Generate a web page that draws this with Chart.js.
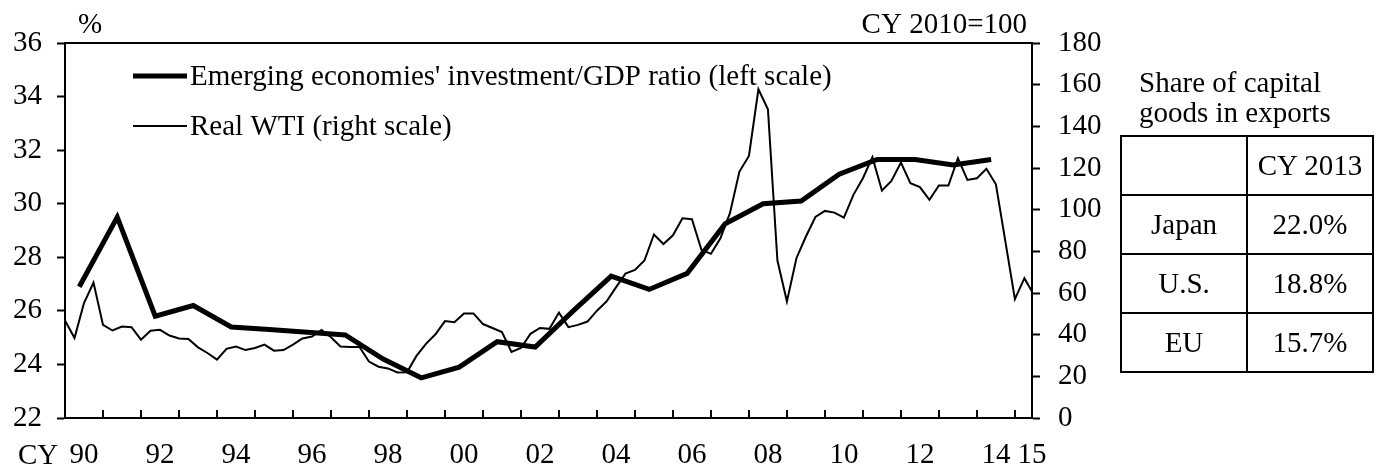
<!DOCTYPE html>
<html>
<head>
<meta charset="utf-8">
<script src="https://cdn.jsdelivr.net/npm/chart.js@4.4.1/dist/chart.umd.min.js"></script>
<style>
  body { margin: 0; background: #fff; }
  #wrap { position: relative; width: 1381px; height: 468px; font-family: 'Liberation Serif', 'Times New Roman', serif; color: #000; }
  #chart { position: absolute; left: 0; top: 0; }
  #side-title { position: absolute; left: 1139px; top: 67px; font-size: 29px; line-height: 30px; }
  #share { position: absolute; left: 1120px; top: 135px; border-collapse: collapse; font-size: 29px; }
  #share td { border: 2px solid #000; width: 124px; height: 57px; padding: 0; text-align: center; }
</style>
</head>
<body>
<div id="wrap">
  <canvas id="chart" width="1381" height="468"></canvas>
  <div id="side-title">Share of capital<br>goods in exports</div>
  <table id="share"></table>
</div>
<script>
// Emerging economies' investment/GDP ratio, annual, % (left scale)
var investYears = [1990, 1991, 1992, 1993, 1994, 1995, 1996, 1997, 1998, 1999,
                   2000, 2001, 2002, 2003, 2004, 2005, 2006, 2007, 2008, 2009,
                   2010, 2011, 2012, 2013, 2014];
var investRatio = [26.9, 29.5, 25.8, 26.2, 25.4, 25.3, 25.2, 25.1, 24.2, 23.5,
                   23.9, 24.85, 24.65, 26.0, 27.3, 26.8, 27.4, 29.25, 30.0, 30.1,
                   31.1, 31.65, 31.65, 31.45, 31.65];

// Real WTI, quarterly from 1990 Q1, CY 2010=100 (right scale)
var wtiStartYear = 1990;
var wtiValues = [
  46.8, 38.4, 55.2, 65.0,  44.7, 42.0, 43.9, 43.6,  37.6, 41.9, 42.3, 39.6,   // 90-92
  38.2, 37.9, 33.9, 31.2,  28.0, 33.2, 34.3, 32.6,  33.6, 35.2, 32.3, 32.6,   // 93-95
  35.2, 38.2, 39.1, 42.3,  38.8, 34.3, 34.1, 34.1,  27.1, 24.6, 23.8, 21.9,   // 96-98
  22.0, 29.8, 35.6, 40.2,  46.5, 46.0, 50.2, 50.2,  45.1, 43.2, 41.3, 31.7,   // 99-01
  33.6, 40.4, 43.2, 42.8,  50.6, 43.6, 44.7, 46.3,  51.5, 55.9, 62.7, 69.3,   // 02-04
  71.1, 75.6, 88.1, 83.5,  87.7, 95.9, 95.4, 80.7,  78.8, 86.3, 98.3, 118.3,  // 05-07
  125.8, 157.8, 148.2, 75.6,  55.9, 76.7, 87.1, 96.5,  99.4, 98.6, 96.2, 107.1, // 08-10
  115.1, 125.2, 109.2, 113.8,  122.6, 112.7, 110.8, 104.7,  111.6, 111.6, 124.7, 114.3, // 11-13
  115.1, 119.6, 112.2, 84.7,  57.1, 67.1, 59.1                                // 14-15
];

// x-axis labels, placed mid-year
var xTickPos = [1990.5, 1992.5, 1994.5, 1996.5, 1998.5, 2000.5, 2002.5, 2004.5,
                2006.5, 2008.5, 2010.5, 2012.5, 2014.5, 2015.45];
var xTickLabels = ['90', '92', '94', '96', '98', '00', '02', '04',
                   '06', '08', '10', '12', '14', '15'];

// side table
var shareHeader = 'CY 2013';
var shareCountries = ['Japan', 'U.S.', 'EU'];
var shareValues = ['22.0%', '18.8%', '15.7%'];

var FONT = "'Liberation Serif', 'Times New Roman', serif";

// build the table
var tbl = document.getElementById('share');
var html = '<tr><td></td><td>' + shareHeader + '</td></tr>';
for (var i = 0; i < shareCountries.length; i++) {
  html += '<tr><td>' + shareCountries[i] + '</td><td>' + shareValues[i] + '</td></tr>';
}
tbl.innerHTML = html;

var investPoints = investYears.map(function(y, i) { return {x: y + 0.375, y: investRatio[i]}; });
var wtiPoints = wtiValues.map(function(v, i) { return {x: wtiStartYear + i / 4, y: v}; });

// frame: top line, inward year ticks, unit labels and the legend
var framePlugin = {
  id: 'frame',
  afterDraw: function(chart) {
    var ctx = chart.ctx, a = chart.chartArea, xs = chart.scales.x;
    ctx.save();
    ctx.strokeStyle = '#000';
    ctx.lineWidth = 2;
    ctx.beginPath();
    ctx.moveTo(a.left, a.top);
    ctx.lineTo(a.right, a.top);
    ctx.stroke();
    for (var yr = 1991; yr <= 2015; yr++) {
      var px = Math.round(xs.getPixelForValue(yr));
      ctx.beginPath();
      ctx.moveTo(px, a.bottom);
      ctx.lineTo(px, a.bottom - 8);
      ctx.stroke();
    }
    ctx.fillStyle = '#000';
    ctx.font = '29px ' + FONT;
    ctx.textBaseline = 'alphabetic';
    ctx.textAlign = 'left';
    ctx.fillText('CY', 18, 464);
    ctx.fillText('%', 78, 33);
    ctx.textAlign = 'right';
    ctx.fillText('CY 2010=100', 1027, 33);

    // legend
    var rows = [76, 126];
    ctx.textAlign = 'left';
    chart.data.datasets.forEach(function(ds, i) {
      ctx.lineWidth = ds.borderWidth;
      ctx.beginPath();
      ctx.moveTo(133, rows[i]);
      ctx.lineTo(187, rows[i]);
      ctx.stroke();
      ctx.fillText(ds.label, 190, rows[i] + 9);
    });
    ctx.restore();
  }
};

var tickFont = {family: FONT, size: 29};

new Chart(document.getElementById('chart').getContext('2d'), {
  type: 'line',
  data: {
    datasets: [
      {
        label: "Emerging economies' investment/GDP ratio (left scale)",
        data: investPoints,
        yAxisID: 'yL',
        borderColor: '#000',
        borderWidth: 5,
        pointRadius: 0,
        tension: 0
      },
      {
        label: 'Real WTI (right scale)',
        data: wtiPoints,
        yAxisID: 'yR',
        borderColor: '#000',
        borderWidth: 2,
        pointRadius: 0,
        tension: 0
      }
    ]
  },
  options: {
    responsive: false,
    animation: false,
    layout: { padding: { top: 43, right: 279, left: 0, bottom: 0 } },
    plugins: {
      legend: { display: false },
      tooltip: { enabled: false }
    },
    scales: {
      x: {
        type: 'linear',
        min: 1990,
        max: 2015.45,
        afterBuildTicks: function(s) { s.ticks = xTickPos.map(function(v) { return {value: v}; }); },
        afterFit: function(s) { s.height = 50; },
        grid: { display: false, drawTicks: false },
        border: { display: true, color: '#000', width: 2 },
        ticks: {
          autoSkip: false, maxRotation: 0, padding: 20, color: '#000', font: tickFont,
          callback: function(v, i) { return xTickLabels[i]; }
        }
      },
      yL: {
        position: 'left',
        min: 22, max: 36,
        afterFit: function(s) { s.width = 65; },
        ticks: { stepSize: 2, padding: 15, color: '#000', font: tickFont },
        grid: { drawOnChartArea: false, drawTicks: true, tickLength: 8, tickWidth: 2, tickColor: '#000' },
        border: { color: '#000', width: 2 }
      },
      yR: {
        position: 'right',
        min: 0, max: 180,
        afterFit: function(s) { s.width = 70; },
        ticks: { stepSize: 20, padding: 18, color: '#000', font: tickFont },
        grid: { drawOnChartArea: false, drawTicks: true, tickLength: 8, tickWidth: 2, tickColor: '#000' },
        border: { color: '#000', width: 2 }
      }
    }
  },
  plugins: [framePlugin]
});
</script>
</body>
</html>
